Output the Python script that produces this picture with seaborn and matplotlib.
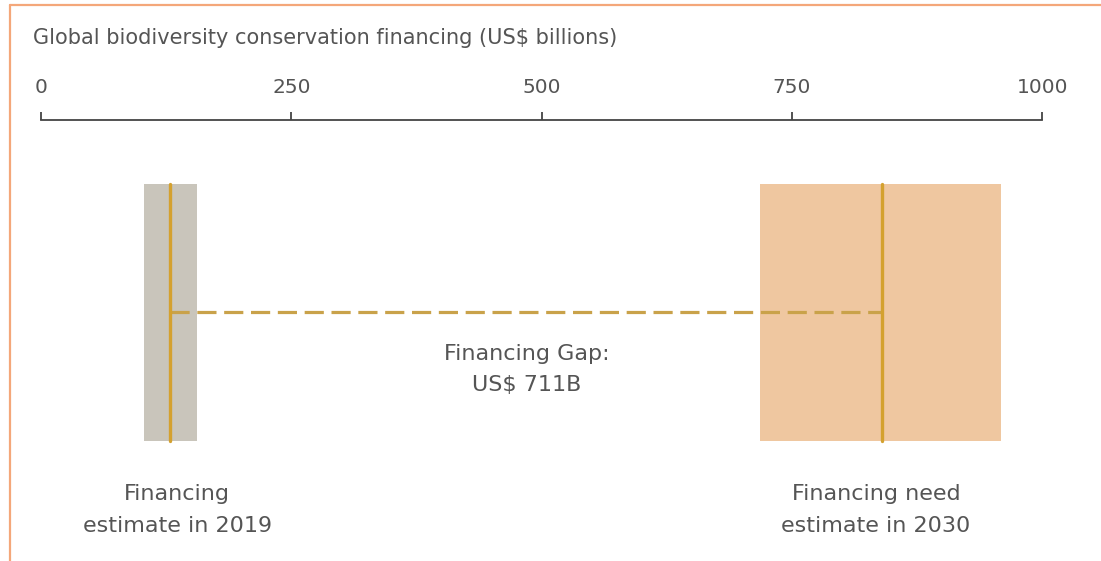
import matplotlib
matplotlib.use("Agg")
import matplotlib.pyplot as plt
import seaborn as sns
from matplotlib.lines import Line2D

# Global biodiversity conservation financing, US$ billions
groups = ["Financing\nestimate in 2019", "Financing need\nestimate in 2030"]
range_low = [103, 718]
range_high = [156, 959]
midpoints = [129, 840]
ticks = [0, 250, 500, 750, 1000]
title = "Global biodiversity conservation financing (US$ billions)"

gap = midpoints[1] - midpoints[0]
gap_label = f"Financing Gap:\nUS$ {gap}B"

sns.set_theme(style="white")
plt.rcParams["font.family"] = ["DejaVu Sans"]

W, H = 1101, 561
fig = plt.figure(figsize=(W / 100, H / 100), dpi=100)
fig.patch.set_facecolor("white")

# axes whose top edge is the value axis line
axis_y = 120
ax = fig.add_axes([0, 0, 1, (H - axis_y) / H])
px = 1001.3 / 1000
x0 = 41
ax.set_xlim(-x0 / px, (W - x0) / px)
ax.set_ylim(H - axis_y, 0)

text_color = "#555555"
band_colors = ["#C9C5BB", "#EFC7A0"]
mid_color = "#D4A12F"
dash_color = "#C9A24A"

band_top, band_bottom = 184 - axis_y, 441 - axis_y
for lo, hi, c in zip(range_low, range_high, band_colors):
    ax.barh(y=(band_top + band_bottom) / 2, width=hi - lo, left=lo,
            height=band_bottom - band_top, color=c, edgecolor="none", zorder=1)

# financing gap between the midpoints
gap_y = 312 - axis_y
sns.lineplot(x=midpoints, y=[gap_y, gap_y], ax=ax, color=dash_color,
             linewidth=2.3, dashes=False, zorder=2)
ax.lines[-1].set_dashes([6, 2.4])
ax.lines[-1].set_dash_capstyle("butt")

for m in midpoints:
    sns.lineplot(x=[m, m], y=[band_top, band_bottom], ax=ax, color=mid_color,
                 linewidth=2.4, zorder=3, estimator=None, sort=False)

# value axis on top
for s in ["left", "right", "bottom"]:
    ax.spines[s].set_visible(False)
ax.spines["top"].set_bounds(ticks[0], ticks[-1])
ax.spines["top"].set_color("#444444")
ax.spines["top"].set_linewidth(1.3)
ax.xaxis.set_ticks_position("top")
ax.xaxis.set_label_position("top")
ax.set_xticks(ticks)
ax.set_xticklabels([str(t) for t in ticks])
ax.tick_params(axis="x", direction="out", length=5.8, width=1.3, color="#444444",
               labelcolor=text_color, labelsize=14.5, pad=11)
ax.set_yticks([])
ax.set_xlabel("")
ax.set_ylabel("")
ax.grid(False)

def place(x_val, y_px, s, size):
    ax.text(x_val, y_px - axis_y, s, ha="center", va="baseline", fontsize=size,
            color=text_color, clip_on=False)

fig.text(33 / W, 1 - 44 / H, title, ha="left", va="baseline", fontsize=15,
         color=text_color)

label_x = [136, 834]
for lx, g in zip(label_x, groups):
    l1, l2 = g.split("\n")
    place(lx, 500, l1, 16)
    place(lx, 532, l2, 16)

g1, g2 = gap_label.split("\n")
place(485, 360, g1, 16)
place(485, 391, g2, 16)

# frame accents
border = "#F4A77A"
fig.add_artist(Line2D([10 / W, 1], [1 - 5 / H, 1 - 5 / H], color=border,
                      linewidth=1.6, transform=fig.transFigure))
fig.add_artist(Line2D([10 / W, 10 / W], [0, 1 - 5 / H], color=border,
                      linewidth=1.6, transform=fig.transFigure))

fig.savefig("out.png", dpi=100, facecolor="white")
